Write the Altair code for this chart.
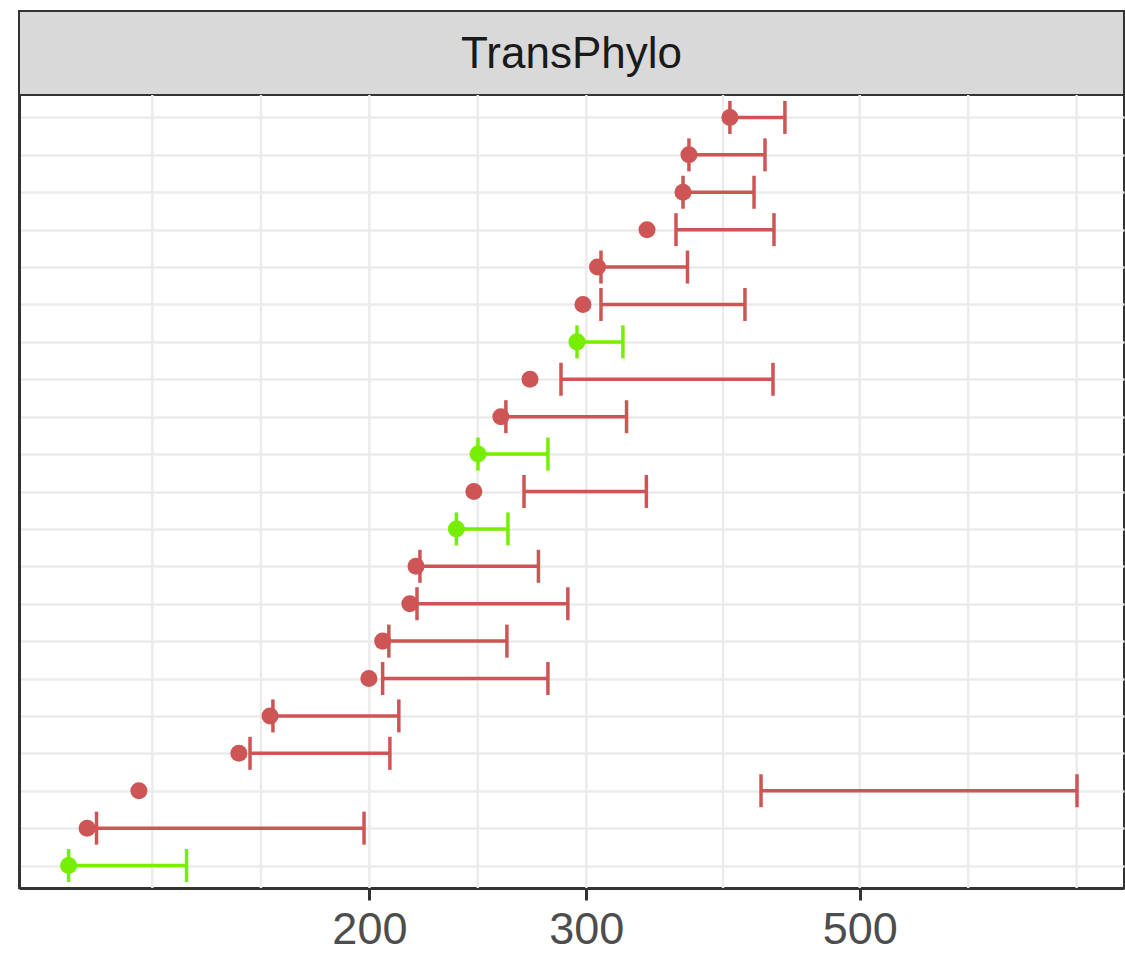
import altair as alt
import pandas as pd

# ---- data (top row first) ----
rows = [str(i) for i in range(1, 22)]
estimate = [392.3, 363.4, 359.4, 336.0, 306.3, 298.1, 294.8, 270.0, 255.7, 245.0, 243.1,
            235.3, 218.2, 215.7, 205.0, 199.8, 166.1, 156.7, 130.0, 118.0, 114.0]
lower = [392.3, 363.4, 359.4, 354.7, 308.3, 308.3, 294.8, 286.1, 258.1, 245.0, 267.0,
         235.3, 219.8, 218.6, 207.4, 205.0, 167.0, 160.0, 415.8, 120.1, 114.0]
upper = [434.8, 418.9, 410.4, 426.0, 362.4, 403.5, 321.2, 425.2, 323.4, 279.2, 335.6,
         259.1, 274.3, 289.8, 258.6, 279.2, 211.3, 207.8, 750.5, 198.0, 142.1]
group = ["red", "red", "red", "red", "red", "red", "green", "red", "red", "green", "red",
         "green", "red", "red", "red", "red", "red", "red", "red", "red", "green"]
tick_labels = [200, 300, 500]
grid_x = [133.3, 163.3, 200, 244.9, 300, 387.3, 500, 612.4, 750]
x_domain = [103.9, 819.4]
facet_label = ["TransPhylo"]

RED = "#CD5555"
GREEN = "#76EE00"
FONT = "Liberation Sans"
PANEL_W = 1105
PANEL_H = 793
STRIP_H = 84

df = pd.DataFrame({"row": rows, "est": estimate, "lower": lower, "upper": upper, "grp": group})

xscale = alt.Scale(type="log", domain=x_domain, nice=False)
xaxis = alt.Axis(values=tick_labels, format="d", grid=False, title=None,
                 labelFontSize=45, labelColor="#4D4D4D", labelFont=FONT,
                 tickColor="#333333", tickWidth=3, tickSize=12, labelPadding=7,
                 domainColor="#333333", domainWidth=3)


def xenc(field):
    return alt.X(f"{field}:Q", scale=xscale, axis=xaxis)


yenc = alt.Y("row:O", sort=None, scale=alt.Scale(type="point", padding=0.6),
             axis=alt.Axis(labels=False, ticks=False, title=None, domainColor="#333333",
                           domainWidth=3, grid=True, gridColor="#EBEBEB", gridWidth=2.5))
color = alt.Color("grp:N", scale=alt.Scale(domain=["red", "green"], range=[RED, GREEN]), legend=None)

base = alt.Chart(df)

gridlayer = alt.Chart(pd.DataFrame({"g": grid_x})).mark_rule(
    color="#EBEBEB", strokeWidth=2.5).encode(x=xenc("g"))

bars = base.mark_rule(strokeWidth=3.5, opacity=1).encode(
    x=xenc("lower"), x2="upper:Q", y=yenc, color=color)
cap_lo = base.mark_tick(size=33, thickness=3.5, opacity=1).encode(x=xenc("lower"), y=yenc, color=color)
cap_hi = base.mark_tick(size=33, thickness=3.5, opacity=1).encode(x=xenc("upper"), y=yenc, color=color)
points = base.mark_point(filled=True, size=290, opacity=1).encode(x=xenc("est"), y=yenc, color=color)

main = alt.layer(gridlayer, bars, cap_lo, cap_hi, points).properties(
    width=PANEL_W, height=PANEL_H,
    view=alt.ViewBackground(stroke="#333333", strokeWidth=2, fill="white"))

strip = alt.Chart(pd.DataFrame({"label": facet_label})).mark_text(
    fontSize=44, font=FONT, color="#1A1A1A", baseline="middle", align="center").encode(
    text="label:N", x=alt.value(PANEL_W / 2), y=alt.value(STRIP_H / 2 + 2)).properties(
    width=PANEL_W, height=STRIP_H,
    view=alt.ViewBackground(fill="#D9D9D9", stroke="#333333", strokeWidth=2))

chart = alt.vconcat(strip, main, spacing=0, bounds="flush").properties(
    padding={"left": 18, "top": 10, "right": 0, "bottom": 0},
    background="white")

chart.save("out.html", embed_options={"renderer": "svg", "actions": False})
